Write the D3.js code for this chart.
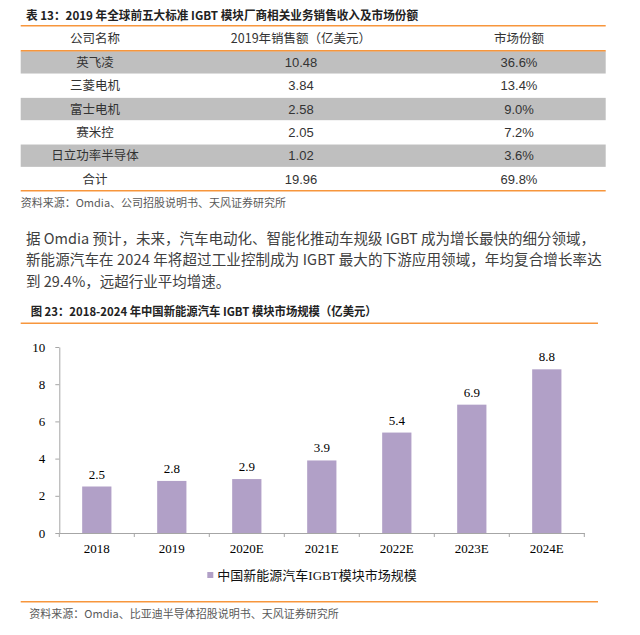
<!DOCTYPE html>
<html>
<head>
<meta charset="utf-8">
<script src="https://cdn.jsdelivr.net/npm/d3@7"></script>
<style>
  body { margin: 0; background: #fff; }
  svg { display: block; }
</style>
</head>
<body>
<svg id="page" width="640" height="635"></svg>
<script>
// table data: top 5 IGBT module makers 2019
var companies = ["英飞凌", "三菱电机", "富士电机", "赛米控", "日立功率半导体"];
var sales = ["10.48", "3.84", "2.58", "2.05", "1.02"];
var shares = ["36.6%", "13.4%", "9.0%", "7.2%", "3.6%"];
var totalRow = ["合计", "19.96", "69.8%"];
var headers = ["公司名称", "2019年销售额（亿美元）", "市场份额"];

// chart data: China NEV IGBT module market size (亿美元)
var years = ["2018", "2019", "2020E", "2021E", "2022E", "2023E", "2024E"];
var marketSize = [2.5, 2.8, 2.9, 3.9, 5.4, 6.9, 8.8];
var yTicks = [0, 2, 4, 6, 8, 10];

var paragraph = [
  "据 Omdia 预计，未来，汽车电动化、智能化推动车规级 IGBT 成为增长最快的细分领域，",
  "新能源汽车在 2024 年将超过工业控制成为 IGBT 最大的下游应用领域，年均复合增长率达",
  "到 29.4%，远超行业平均增速。"
];

var orange = "#f7963c";
var purple = "#b1a0c7";
var cjk = "'Noto Sans CJK SC', 'Liberation Sans', sans-serif";
var sans = "'Liberation Sans', 'Noto Sans CJK SC', sans-serif";
var serif = "'Liberation Serif', 'Noto Sans CJK SC', serif";

var svg = d3.select("#page");
svg.append("rect").attr("width", 640).attr("height", 635).attr("fill", "#fff");

// ---- table ----
svg.append("text")
  .attr("x", 26).attr("y", 19.5)
  .attr("font-family", cjk).attr("font-size", 12).attr("font-weight", "bold")
  .attr("fill", "#222")
  .attr("textLength", 392).attr("lengthAdjust", "spacingAndGlyphs")
  .text("表 13：2019 年全球前五大标准 IGBT 模块厂商相关业务销售收入及市场份额");

var tLeft = 20.7, tRight = 605.7;
var rowH = 23.33, bodyTop = 50.7;
var colX = [95, 301, 519];

var rows = companies.map(function(c, i) { return [c, sales[i], shares[i]]; });
rows.push(totalRow);

// gray stripes on every other body row
svg.selectAll("rect.stripe")
  .data(rows.filter(function(r, i) { return i % 2 === 0 && i < companies.length; }))
  .enter().append("rect")
  .attr("class", "stripe")
  .attr("x", tLeft)
  .attr("y", function(d) { return bodyTop + rows.indexOf(d) * rowH + 0.5; })
  .attr("width", tRight - tLeft)
  .attr("height", rowH - 1)
  .attr("fill", "#bfbfbf");

svg.selectAll("text.head")
  .data(headers)
  .enter().append("text")
  .attr("class", "head")
  .attr("x", function(d, i) { return colX[i]; })
  .attr("y", 42.7)
  .attr("text-anchor", "middle")
  .attr("font-family", cjk).attr("font-size", 12.5).attr("fill", "#333")
  .text(function(d) { return d; });

var rowG = svg.selectAll("g.row")
  .data(rows)
  .enter().append("g")
  .attr("class", "row")
  .attr("transform", function(d, i) { return "translate(0," + (bodyTop + (i + 0.5) * rowH + 4.5) + ")"; });

rowG.selectAll("text")
  .data(function(d) { return d; })
  .enter().append("text")
  .attr("x", function(d, i) { return colX[i]; })
  .attr("text-anchor", "middle")
  .attr("font-family", function(d, i) { return i === 0 ? cjk : sans; })
  .attr("font-size", function(d, i) { return i === 0 ? 12.5 : 13; })
  .attr("fill", "#333")
  .text(function(d) { return d; });

// orange rules
[25.7, 50.7, 190.7].forEach(function(y) {
  svg.append("line")
    .attr("x1", tLeft).attr("x2", tRight)
    .attr("y1", y).attr("y2", y)
    .attr("stroke", orange).attr("stroke-width", 1.6);
});

svg.append("text")
  .attr("x", 20.7).attr("y", 206.5)
  .attr("font-family", cjk).attr("font-size", 11).attr("fill", "#595959")
  .text("资料来源：Omdia、公司招股说明书、天风证券研究所");

// ---- paragraph ----
var paraLen = [569, 575.7, null];
svg.selectAll("text.para")
  .data(paragraph)
  .enter().append("text")
  .attr("class", "para")
  .attr("x", 26)
  .attr("y", function(d, i) { return 243.5 + i * 21.5; })
  .attr("font-family", cjk).attr("font-size", 14.5).attr("fill", "#404040")
  .each(function(d, i) {
    if (paraLen[i]) d3.select(this).attr("textLength", paraLen[i]).attr("lengthAdjust", "spacing");
  })
  .text(function(d) { return d; });

// ---- figure ----
svg.append("text")
  .attr("x", 30.7).attr("y", 316)
  .attr("font-family", cjk).attr("font-size", 12).attr("font-weight", "bold")
  .attr("fill", "#222")
  .attr("textLength", 346).attr("lengthAdjust", "spacingAndGlyphs")
  .text("图 23：2018-2024 年中国新能源汽车 IGBT 模块市场规模（亿美元）");

svg.append("line")
  .attr("x1", 20.7).attr("x2", 598).attr("y1", 323.3).attr("y2", 323.3)
  .attr("stroke", orange).attr("stroke-width", 1.6);

var x = d3.scaleBand().domain(years).range([59.3, 584.3])
  .paddingInner(0.61).paddingOuter(0.305);
var y = d3.scaleLinear().domain([0, 10]).range([533, 347]);

var chart = svg.append("g");

chart.selectAll("rect.bar")
  .data(marketSize)
  .enter().append("rect")
  .attr("class", "bar")
  .attr("x", function(d, i) { return x(years[i]); })
  .attr("y", function(d) { return y(d); })
  .attr("width", x.bandwidth())
  .attr("height", function(d) { return y(0) - y(d); })
  .attr("fill", purple);

chart.selectAll("text.val")
  .data(marketSize)
  .enter().append("text")
  .attr("class", "val")
  .attr("x", function(d, i) { return x(years[i]) + x.bandwidth() / 2; })
  .attr("y", function(d) { return y(d) - 8; })
  .attr("text-anchor", "middle")
  .attr("font-family", serif).attr("font-size", 13).attr("fill", "#000")
  .text(function(d) { return d3.format(".1f")(d); });

// y axis
var yAxis = chart.append("g")
  .attr("transform", "translate(59.3,0)")
  .call(d3.axisLeft(y).tickValues(yTicks).tickSize(4).tickPadding(10).tickSizeOuter(0));

// x axis, labels centred, tick marks between categories
var xAxis = chart.append("g")
  .attr("transform", "translate(0,533)")
  .call(d3.axisBottom(x).tickSize(0).tickPadding(11).tickSizeOuter(0));

var step = x.step();
xAxis.selectAll("line.sep")
  .data(d3.range(years.length + 1))
  .enter().append("line")
  .attr("class", "sep")
  .attr("x1", function(i) { return 59.3 + i * step; })
  .attr("x2", function(i) { return 59.3 + i * step; })
  .attr("y1", 0).attr("y2", 4);

[yAxis, xAxis].forEach(function(g) {
  g.selectAll("path.domain").attr("stroke", "#a6a6a6");
  g.selectAll("line").attr("stroke", "#a6a6a6");
  g.selectAll("text").attr("font-family", serif).attr("font-size", 13).attr("fill", "#000");
});

// legend
svg.append("rect")
  .attr("x", 207.3).attr("y", 572).attr("width", 6).attr("height", 6)
  .attr("fill", purple);
svg.append("text")
  .attr("x", 217.3).attr("y", 579.5)
  .attr("font-family", serif).attr("font-size", 13).attr("fill", "#111")
  .text("中国新能源汽车IGBT模块市场规模");

svg.append("line")
  .attr("x1", 20.7).attr("x2", 598).attr("y1", 601.7).attr("y2", 601.7)
  .attr("stroke", orange).attr("stroke-width", 1.6);

svg.append("text")
  .attr("x", 29.3).attr("y", 618.3)
  .attr("font-family", cjk).attr("font-size", 11).attr("fill", "#595959")
  .text("资料来源：Omdia、比亚迪半导体招股说明书、天风证券研究所");
</script>
</body>
</html>
